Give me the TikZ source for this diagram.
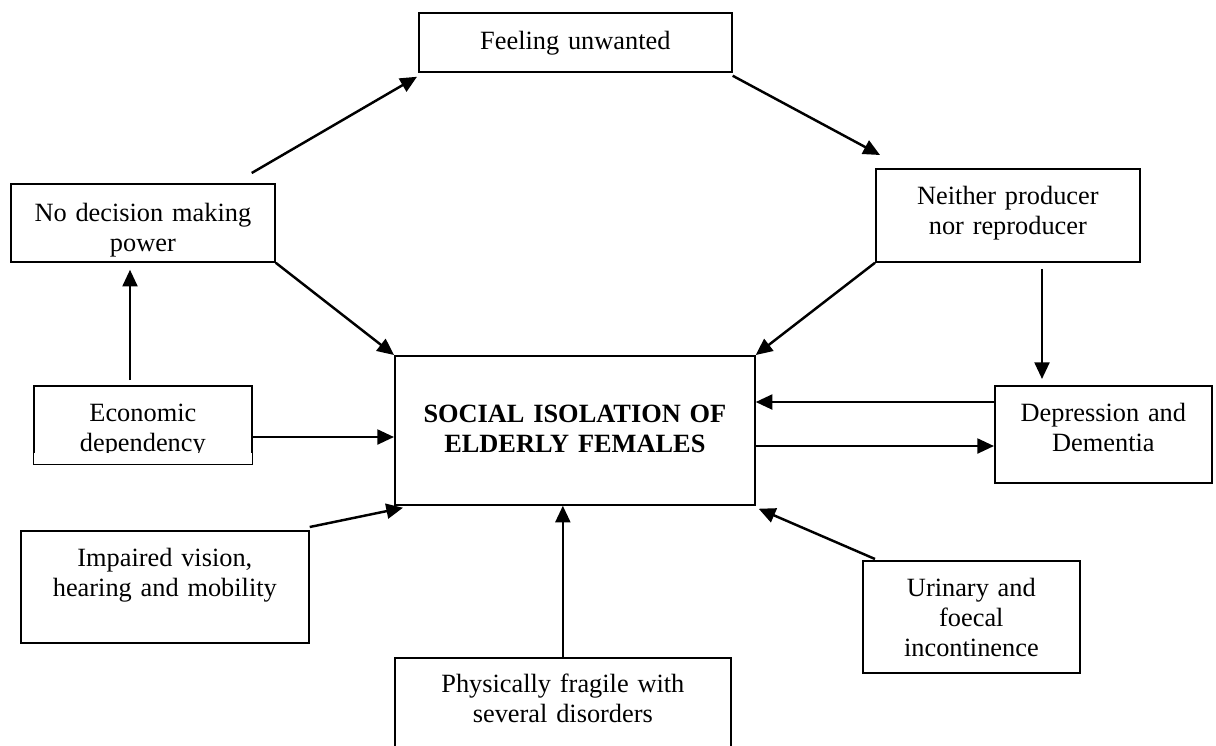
\documentclass[tikz,border=0pt]{standalone}
\usepackage{fontspec}
\setmainfont{Liberation Serif}
\usetikzlibrary{arrows.meta, calc}

\begin{document}
\begin{tikzpicture}[x=0.02cm, y=-0.02cm, font=\fontsize{15}{17.1}\selectfont,
	box/.style n args={3}{draw, line width=1pt, anchor=north west, align=center, inner sep=0pt,
		text width=#1, text height=#2, text depth=#3},
	arr/.style={-{Triangle[length=9.5pt, width=8.5pt]}, line width=1.4pt}]

	\useasboundingbox (0,0) rectangle (1216,745);
	\clip (0,0) rectangle (1216,745);

	\node[box={6.26cm}{0.74cm}{0.44cm}] (feel) at (418,12) {Feeling unwanted};
	\node[box={5.28cm}{0.76cm}{0.80cm}] (nodec) at (10,183) {No decision making\\ power};
	\node[box={5.28cm}{0.72cm}{1.14cm}] (neither) at (875,168) {Neither producer\\ nor reproducer};
	\node[box={4.36cm}{0.71cm}{0.85cm}] (econ) at (33,385) {Economic\\ dependency};
	\node[box={7.20cm}{1.34cm}{1.64cm}, font=\fontsize{15}{17.1}\selectfont\bfseries] (social) at (394,355) {SOCIAL ISOLATION OF\\ ELDERLY FEMALES};
	\node[box={4.34cm}{0.72cm}{1.22cm}] (depr) at (994,385) {Depression and\\ Dementia};
	\node[box={5.76cm}{0.72cm}{1.52cm}] (impair) at (20,530) {Impaired vision,\\ hearing and mobility};
	\node[box={4.34cm}{0.72cm}{1.52cm}] (urin) at (862,560) {Urinary and\\ foecal\\ incontinence};
	\node[box={6.72cm}{0.70cm}{1.70cm}] (phys) at (394,657) {Physically fragile with\\ several disorders};

	% text box cuts off the second line
	\fill[white] ($(econ.south west)+(1,-12)$) rectangle ($(econ.south east)+(-1,-1)$);

	\draw[arr] ($(nodec.north east)+(-24,-10)$) -- ($(feel.south west)+(-1,4)$);
	\draw[arr] ($(feel.south east)+(0,3)$) -- ($(neither.north west)+(5,-13)$);
	\draw[arr] (nodec.south east) -- (social.north west);
	\draw[arr] (neither.south west) -- (social.north east);
	\draw[arr] ($(neither.south west)+(167,6)$) -- ($(depr.north west)+(48,-6)$);
	\draw[arr] ($(econ.north west)+(97,-5)$) -- ($(nodec.south west)+(120,7)$);

	\coordinate (e1) at ($(econ.north east)+(0,52)$);
	\coordinate (d1) at ($(depr.north west)+(0,17)$);
	\coordinate (s1) at ($(social.north east)+(0,91)$);
	\draw[arr] (e1) -- (e1 -| social.west);
	\draw[arr] (d1) -- (d1 -| social.east);
	\draw[arr] (s1) -- (s1 -| depr.west);

	\draw[arr] ($(impair.north east)+(0,-3)$) -- ($(social.south west)+(9,2)$);
	\draw[arr] (phys.north) -- (phys.north |- social.south);
	\draw[arr] ($(urin.north west)+(13,-1)$) -- ($(social.south east)+(3,3)$);

\end{tikzpicture}
\end{document}
